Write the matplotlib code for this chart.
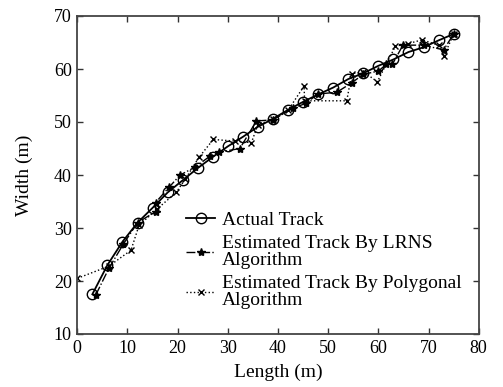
import matplotlib
matplotlib.use("Agg")
import matplotlib.pyplot as plt

# Actual track
actual_x = [3, 6, 9, 12, 15, 18, 21, 24, 27, 30, 33, 36, 39, 42, 45, 48, 51, 54, 57, 60, 63, 66, 69, 72, 75]
actual_y = [17.5, 23.0, 27.4, 31.0, 33.8, 36.7, 39.0, 41.3, 43.4, 45.4, 47.2, 49.1, 50.6, 52.3, 53.8,
            55.2, 56.5, 58.1, 59.2, 60.6, 61.8, 63.2, 64.1, 65.4, 66.6]

# Estimated track by LRNS algorithm
lrns_x = [3.7, 6.3, 9.2, 12.0, 15.6, 15.6, 18.3, 20.5, 23.5, 26.5, 28.3, 32.4, 35.7, 39.0, 43.0, 45.5,
          48.0, 51.7, 54.7, 57.0, 60.0, 61.6, 62.8, 64.9, 69.0, 73.0, 75.0]
lrns_y = [17.4, 22.4, 27.0, 31.0, 33.1, 34.8, 37.7, 40.0, 41.5, 43.6, 44.3, 45.0, 50.2, 50.4, 52.6, 53.5,
          55.3, 55.6, 57.4, 59.0, 59.6, 60.9, 60.9, 64.5, 64.5, 63.6, 66.6]

# Estimated track by polygonal algorithm
poly_x = [0.0, 6.3, 10.7, 12.3, 15.8, 19.7, 21.5, 24.3, 27.1, 31.5, 34.7, 36.0, 39.0, 42.0, 45.2, 45.3,
          53.7, 54.7, 57.0, 59.8, 63.4, 66.0, 68.7, 72.0, 73.1, 75.0]
poly_y = [20.5, 22.8, 25.8, 30.5, 33.5, 36.7, 39.2, 43.4, 46.7, 46.4, 46.1, 49.5, 50.5, 52.2, 56.8, 54.0,
          54.0, 59.1, 59.5, 57.6, 64.3, 64.8, 65.5, 64.5, 62.5, 66.6]

x_ticks = [0, 10, 20, 30, 40, 50, 60, 70, 80]
y_ticks = [10, 20, 30, 40, 50, 60, 70]

plt.rcParams['font.family'] = ['Liberation Serif', 'DejaVu Serif']

fig = plt.figure(figsize=(5.03, 3.87), dpi=100)
ax = fig.add_axes([77.3 / 503, 1 - 334 / 387, (478.7 - 77.3) / 503, (334 - 16) / 387])

ax.plot(actual_x, actual_y, '-', color='black', lw=1.3, marker='o', ms=7.5,
        mfc='none', mec='black', mew=1.0, label='Actual Track', zorder=3)
ax.plot(lrns_x, lrns_y, '-.', color='black', lw=1.0, marker='*', ms=6,
        mfc='black', mec='black', label='Estimated Track By LRNS\nAlgorithm', zorder=4)
ax.plot(poly_x, poly_y, ':', color='black', lw=1.0, marker='x', ms=4,
        mew=1.0, label='Estimated Track By Polygonal\nAlgorithm', zorder=2)

ax.set_xlim(0, 80)
ax.set_ylim(10, 70)
ax.set_xticks(x_ticks)
ax.set_yticks(y_ticks)
ax.tick_params(direction='in', top=True, right=True, length=4, width=1.0,
               labelsize=13, colors='#333333', labelcolor='black', pad=4)
for s in ax.spines.values():
    s.set_linewidth(1.3)
    s.set_color('#444444')

ax.set_xlabel('Length (m)', fontsize=14, labelpad=5)
ax.set_ylabel('Width (m)', fontsize=14, labelpad=15)

leg = ax.legend(loc='upper left', bbox_to_anchor=(186 / 503, 1 - 211 / 387),
                bbox_transform=fig.transFigure, frameon=False, fontsize=14,
                handlelength=1.5, handletextpad=0.35, labelspacing=0.33,
                numpoints=1, borderpad=0, borderaxespad=0)
for t in leg.get_texts():
    t.set_linespacing(0.97)

fig.savefig('out.png', dpi=100)
